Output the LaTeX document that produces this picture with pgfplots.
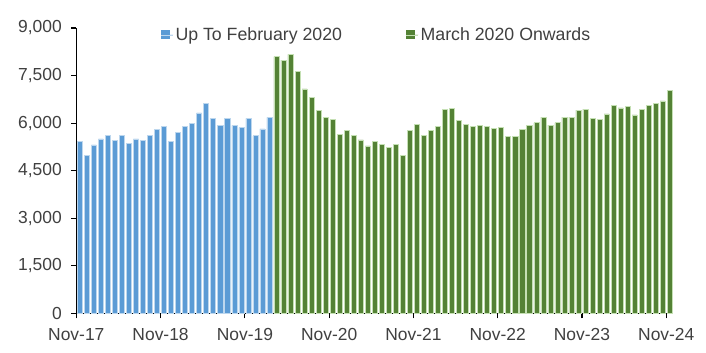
\documentclass[border=0pt]{standalone}
\usepackage{pgfplots}
\pgfplotsset{compat=1.18}
\usepackage{fontspec}
\setmainfont{Liberation Sans}
\definecolor{txt}{HTML}{404040}
\definecolor{bfill}{HTML}{5B9BD5}
\definecolor{bedge}{HTML}{BDD7EE}
\definecolor{gfill}{HTML}{548235}
\definecolor{gedge}{HTML}{C5E0B4}
\begin{document}
\begin{tikzpicture}
\useasboundingbox (-76.3bp,-39.7bp) rectangle (629.7bp,313.3bp);
\begin{axis}[
  at={(0,0)}, anchor=south west,
  scale only axis, width=597bp, height=285.3bp,
  xmin=0, xmax=85, ymin=0, ymax=9000,
  axis x line*=bottom, axis y line*=left,
  axis line style={-, line width=1.2bp, black},
  xtick={0,12,24,36,48,60,72,84},
  xticklabels={Nov-17,Nov-18,Nov-19,Nov-20,Nov-21,Nov-22,Nov-23,Nov-24},
  ytick={0,1500,3000,4500,6000,7500,9000},
  /pgf/number format/.cd, 1000 sep={,}, assume math mode=true, /pgfplots/.cd,
  tick align=outside, major tick length=5bp,
  tick style={black, line width=1.2bp},
  ticklabel style={font=\fontsize{17.5}{20}\selectfont, text=txt},
  xticklabel style={yshift=-7bp},
  yticklabel style={xshift=-6bp},
  legend columns=2,
  legend style={draw=none, fill=none, at={(0.1414,0.9755)}, anchor=west, inner sep=0pt,
    nodes={inner sep=2bp, text=txt, font=\fontsize{17.8}{20}\selectfont},
    /tikz/every even column/.append style={column sep=62bp}},
  legend image code/.code={\fill[#1,draw=none] (0bp,-4.5bp) rectangle (9bp,4.5bp); \path (0bp,0bp) -- (12bp,0bp);},
  clip=false,
]
\addplot[ybar, bar width=0.72, bar shift=0pt, fill=bfill, draw=bedge, line width=0.6bp] coordinates {
(0.5,5420)(1.5,4990)(2.5,5310)(3.5,5500)(4.5,5600)(5.5,5450)(6.5,5600)(7.5,5350)
(8.5,5500)(9.5,5450)(10.5,5600)(11.5,5790)(12.5,5890)(13.5,5420)(14.5,5710)(15.5,5890)
(16.5,6000)(17.5,6320)(18.5,6610)(19.5,6150)(20.5,5930)(21.5,6150)(22.5,5930)(23.5,5860)
(24.5,6150)(25.5,5600)(26.5,5820)(27.5,6180)
};
\addlegendentry{Up To February 2020}
\addplot[ybar, bar width=0.72, bar shift=0pt, fill=gfill, draw=gedge, line width=0.6bp] coordinates {
(28.5,8100)(29.5,7990)(30.5,8170)(31.5,7630)(32.5,7080)(33.5,6800)(34.5,6400)(35.5,6180)
(36.5,6120)(37.5,5640)(38.5,5760)(39.5,5610)(40.5,5470)(41.5,5280)(42.5,5430)(43.5,5320)
(44.5,5240)(45.5,5330)(46.5,4990)(47.5,5760)(48.5,5970)(49.5,5610)(50.5,5760)(51.5,5900)
(52.5,6430)(53.5,6470)(54.5,6080)(55.5,5970)(56.5,5900)(57.5,5940)(58.5,5900)(59.5,5830)
(60.5,5860)(61.5,5580)(62.5,5580)(63.5,5790)(64.5,5940)(65.5,6010)(66.5,6190)(67.5,5940)
(68.5,6010)(69.5,6190)(70.5,6190)(71.5,6410)(72.5,6440)(73.5,6150)(74.5,6120)(75.5,6290)
(76.5,6550)(77.5,6480)(78.5,6520)(79.5,6260)(80.5,6440)(81.5,6550)(82.5,6630)(83.5,6700)
(84.5,7020)
};
\addlegendentry{March 2020 Onwards}
\end{axis}
\end{tikzpicture}
\end{document}
